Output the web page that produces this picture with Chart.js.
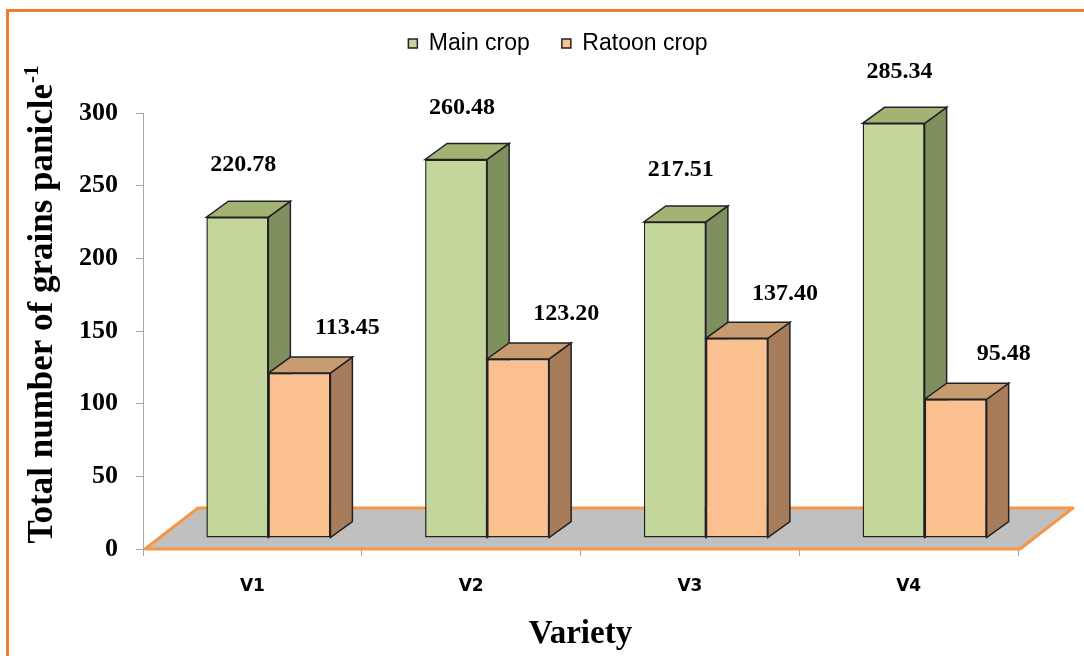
<!DOCTYPE html>
<html>
<head>
<meta charset="utf-8">
<script src="https://cdn.jsdelivr.net/npm/chart.js@4.4.0/dist/chart.umd.min.js"></script>
<style>
body{margin:0;background:#fff;}
#wrap{position:relative;width:1084px;height:656px;overflow:hidden;}
#frame{position:absolute;left:6px;top:9px;width:1200px;height:800px;border-left:3px solid #ef7d2d;border-top:3px solid #ef7d2d;}
#myChart{position:absolute;left:0;top:0;}
</style>
</head>
<body>
<div id="wrap"><div id="frame"></div><canvas id="myChart" width="1084" height="656"></canvas></div>
<script>
'use strict';
const varieties=['V1','V2','V3','V4'];
const mainCrop=[220.78,260.48,217.51,285.34];
const ratoonCrop=[113.45,123.20,137.40,95.48];
const seriesNames=['Main crop','Ratoon crop'];
const yMin=0, yMax=300, yStep=50;

// look of the fake 3d boxes
const frontColors=['#c3d69b','#fac08f'];
const topColors=['#a2b374','#c99b70'];
const sideColors=['#7e905e','#a67c5a'];
const depth={x:22,y:-16};     // box depth
const shift={x:16,y:-11};     // boxes sit a bit back on the floor
const floorDepth={x:53,y:-41};
const labelNudge=[{x:6,y:-52},{x:48,y:-45}];

function poly(ctx,pts,fill){
  ctx.beginPath();
  ctx.moveTo(pts[0][0],pts[0][1]);
  for(let i=1;i<pts.length;i++) ctx.lineTo(pts[i][0],pts[i][1]);
  ctx.closePath();
  ctx.fillStyle=fill;
  ctx.fill();
  ctx.strokeStyle='#222';
  ctx.lineWidth=1.5;
  ctx.stroke();
}

const threeD={
  id:'threeD',
  beforeLayout(chart){
    // keep legend tall so the plot starts lower
    const legend=chart.legend;
    if(legend && !legend._patched){
      const fit=legend.fit;
      legend.fit=function(){ fit.call(this); this.height=113; };
      legend._patched=true;
    }
  },
  afterLayout(chart){
    // legend sits a little right of the plot centre
    chart.legend.left+=14;
    chart.legend.right+=14;
  },
  beforeDatasetsDraw(chart){
    const ctx=chart.ctx, a=chart.chartArea;
    ctx.save();
    ctx.beginPath();
    ctx.moveTo(a.left+2,a.bottom);
    ctx.lineTo(a.right+2,a.bottom);
    ctx.lineTo(a.right+2+floorDepth.x,a.bottom+floorDepth.y);
    ctx.lineTo(a.left+2+floorDepth.x,a.bottom+floorDepth.y);
    ctx.closePath();
    ctx.fillStyle='#c0c0c0';
    ctx.fill();
    ctx.strokeStyle='#f79646';
    ctx.lineWidth=3;
    ctx.lineJoin='round';
    ctx.stroke();
    ctx.restore();

    ctx.save();
    ctx.translate(shift.x,shift.y);
    chart.data.datasets.forEach((ds,i)=>{
      chart.getDatasetMeta(i).data.forEach(bar=>{
        const p=bar.getProps(['x','y','base','width'],true);
        const l=p.x-p.width/2, r=p.x+p.width/2, t=p.y, b=p.base;
        poly(ctx,[[r,t],[r+depth.x,t+depth.y],[r+depth.x,b+depth.y],[r,b]],sideColors[i]);
        poly(ctx,[[l,t],[r,t],[r+depth.x,t+depth.y],[l+depth.x,t+depth.y]],topColors[i]);
      });
    });
  },
  afterDatasetsDraw(chart){
    const ctx=chart.ctx;
    ctx.font='bold 24px "Liberation Serif"';
    ctx.fillStyle='#000';
    ctx.textAlign='center';
    ctx.textBaseline='middle';
    chart.data.datasets.forEach((ds,i)=>{
      chart.getDatasetMeta(i).data.forEach((bar,j)=>{
        const p=bar.getProps(['x','y'],true);
        ctx.fillText(ds.data[j].toFixed(2),p.x+labelNudge[i].x,p.y+labelNudge[i].y);
      });
    });
    ctx.restore();
  },
  afterDraw(chart){
    // y title with superscript
    const ctx=chart.ctx;
    const main='Total number of grains panicle', sup='-1';
    const big='bold 35px "Liberation Serif"', small='bold 21px "Liberation Serif"';
    ctx.save();
    ctx.translate(52,305);
    ctx.rotate(-Math.PI/2);
    ctx.fillStyle='#000';
    ctx.textAlign='left';
    ctx.textBaseline='alphabetic';
    ctx.font=big;
    const w1=ctx.measureText(main).width;
    ctx.font=small;
    const w2=ctx.measureText(sup).width;
    const x0=-(w1+w2)/2;
    ctx.font=big;
    ctx.fillText(main,x0,0);
    ctx.font=small;
    ctx.fillText(sup,x0+w1+1,-14);
    ctx.restore();
  }
};

let ctx=document.getElementById('myChart').getContext('2d');
let chart=new Chart(ctx,{
  type:'bar',
  data:{
    labels:varieties,
    datasets:[{
      label:seriesNames[0],
      data:mainCrop,
      backgroundColor:frontColors[0],
      borderColor:'#222',
      borderWidth:1.5,
      borderSkipped:false,
      clip:false
    },{
      label:seriesNames[1],
      data:ratoonCrop,
      backgroundColor:frontColors[1],
      borderColor:'#222',
      borderWidth:1.5,
      borderSkipped:false,
      clip:false
    }]
  },
  options:{
    responsive:false,
    animation:false,
    events:[],
    categoryPercentage:0.567,
    barPercentage:1.0,
    layout:{padding:{left:70,right:66,top:0,bottom:0}},
    plugins:{
      tooltip:{enabled:false},
      legend:{
        position:'top',
        labels:{boxWidth:9,boxHeight:9,padding:32,color:'#000',font:{family:'Liberation Sans',size:23}}
      }
    },
    scales:{
      x:{
        grid:{drawOnChartArea:false,offset:true,tickLength:7,color:'#a6a6a6'},
        border:{display:true,color:'#a6a6a6'},
        ticks:{color:'#000',padding:20,font:{family:'DejaVu Sans',size:17,weight:'bold'}},
        title:{display:true,text:'Variety',color:'#000',padding:{top:0,bottom:2},font:{family:'Liberation Serif',size:33,weight:'bold'}},
        afterFit(scale){ scale.height=107; }
      },
      y:{
        min:yMin,max:yMax,
        grid:{drawOnChartArea:false,tickLength:7,color:'#a6a6a6'},
        border:{display:true,color:'#a6a6a6'},
        ticks:{stepSize:yStep,color:'#000',padding:18,font:{family:'Liberation Serif',size:26,weight:'bold'}},
        afterFit(scale){ scale.width=73; }
      }
    }
  },
  plugins:[threeD]
});
</script>
</body>
</html>
